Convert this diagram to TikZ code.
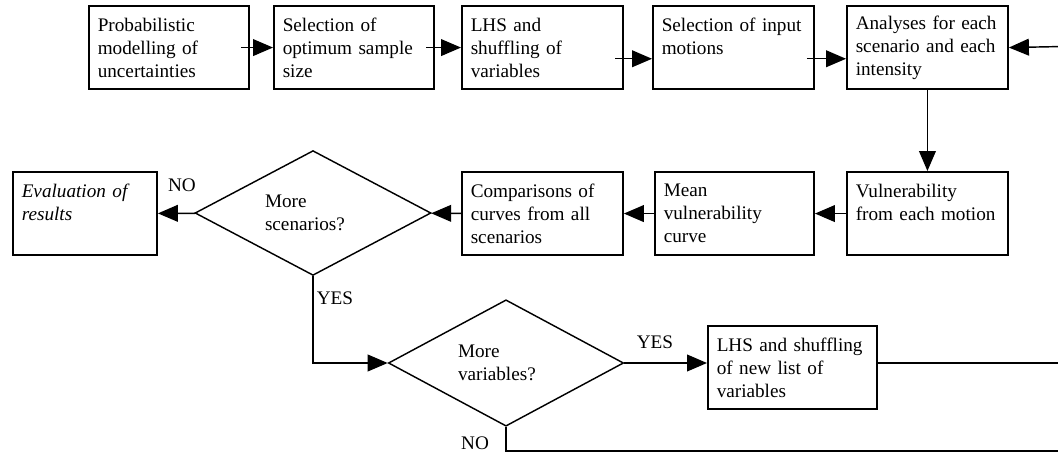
\documentclass[tikz,border=0pt]{standalone}
\usepackage{fontspec}
\setmainfont{Liberation Serif}
\usetikzlibrary{positioning, shapes.geometric, arrows.meta}

\begin{document}
\begin{tikzpicture}[x=0.625pt, y=-0.625pt,
      font=\fontsize{12}{14.4}\selectfont,
      bx/.style={draw, line width=1.2pt, align=left, anchor=north west, minimum height=52pt, inner xsep=5.5pt, inner ysep=3pt},
      dm/.style={draw, diamond, aspect=2, line width=0.9pt, inner sep=0pt, text width=60pt, align=left},
      arr/.style={-{Triangle[length=12.5pt,width=10.5pt]}, line width=0.9pt},
      ln/.style={line width=0.9pt}]
      \useasboundingbox (0,0) rectangle (1058,454);
      % top row
      \node[bx, text width=89pt] (prob) at (88,5) {Probabilistic\\modelling of\\uncertainties};
      \node[bx, text width=89pt] (size) at (273,5) {Selection of\\optimum sample\\size};
      \node[bx, text width=89.6pt] (lhs) at (461,5) {LHS and\\shuffling of\\variables};
      \node[bx, text width=89.6pt] (motions) at (652,5) {Selection of input\\motions\\\mbox{}};
      \node[bx, text width=89.6pt] (analyses) at (846,5) {Analyses for each\\scenario and each\\intensity};
      % middle row
      \node[bx, text width=89.6pt] (vuln) at (846,171) {Vulnerability\\from each motion\\\mbox{}};
      \node[bx, text width=88.4pt] (mean) at (654,171) {Mean\\vulnerability\\curve};
      \node[bx, text width=89.6pt] (comp) at (461,171) {Comparisons of\\curves from all\\scenarios};
      \node[dm, minimum width=147.5pt, minimum height=78pt] (dscen) at (313,213) {More\\scenarios?};
      \node[bx, text width=79pt, font=\fontsize{12}{14.4}\selectfont\itshape] (eval) at (12,171) {Evaluation of\\results\\\mbox{}};
      % bottom
      \node[dm, minimum width=147pt, minimum height=79pt] (dvar) at (506,363) {More\\variables?};
      \node[bx, text width=94.6pt] (newlhs) at (707,325) {LHS and shuffling\\of new list of\\variables};
      \coordinate (inR) at (1058,46.6); \coordinate (outR) at (1058,363); \coordinate (noR) at (1058,451);
      \draw[arr]([xshift=-5.5pt]prob.east)--(size.west);
      \draw[arr]([xshift=-5.5pt]size.east)--(lhs.west);
      \draw[arr]([xshift=-5.5pt,yshift=-7pt]lhs.east)--([yshift=-7pt]motions.west);
      \draw[arr]([xshift=-5pt,yshift=-7pt]motions.east)--([yshift=-7pt]analyses.west);
      \draw[arr](inR)--(analyses.east);
      \draw[arr](analyses)--(vuln); \draw[arr](vuln)--(mean); \draw[arr](mean)--(comp);
      \draw[arr](comp)--(dscen); \draw[arr](dscen)--(eval);
      \draw[arr](dscen.south)|-(dvar.west);
      \draw[arr](dvar.east)--(dvar.east -| newlhs.west);
      \draw[line width=1.3pt](newlhs.east |- dvar.east)--(outR);
      \draw[ln](dvar.south)|-(noR);
      \node (no1) at (182,185) {NO};
      \node (yes1) at (335,298) {YES};
      \node (yes2) at (655,342) {YES};
      \node (no2) at (475,443) {NO};
    \end{tikzpicture}
\end{document}
